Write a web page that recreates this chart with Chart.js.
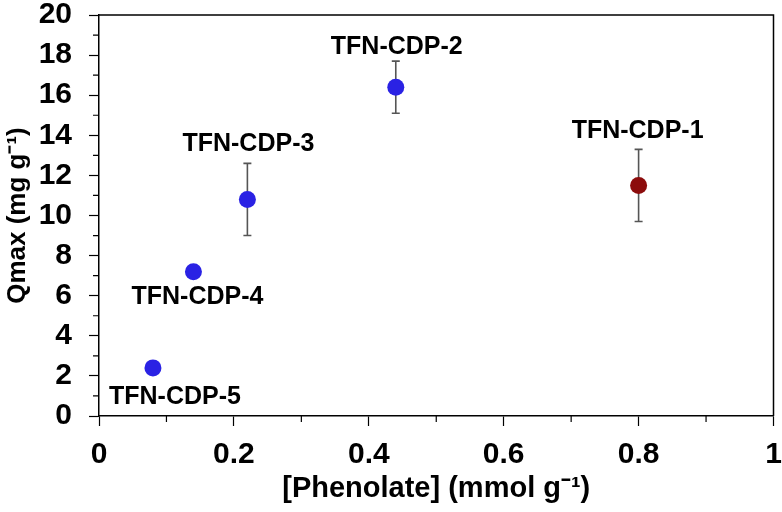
<!DOCTYPE html>
<html>
<head>
<meta charset="utf-8">
<script src="https://cdn.jsdelivr.net/npm/chart.js@4"></script>
<style>
  html, body { margin: 0; padding: 0; background: #fff; }
  #wrap { width: 782px; height: 512px; }
</style>
</head>
<body>
<div id="wrap"><canvas id="myChart" width="782" height="512"></canvas></div>
<script>
// data
const sampleNames = ["TFN-CDP-5", "TFN-CDP-4", "TFN-CDP-3", "TFN-CDP-2", "TFN-CDP-1"];
const phenolate = [0.08, 0.14, 0.22, 0.44, 0.80];
const qmax = [2.4, 7.2, 10.8, 16.4, 11.5];
const qmaxErr = [0, 0, 1.8, 1.3, 1.8];
const xTicks = [0, 0.2, 0.4, 0.6, 0.8, 1];
const yTicks = [0, 2, 4, 6, 8, 10, 12, 14, 16, 18, 20];

// styling
const pointColors = ["#2a22e4", "#2a22e4", "#2a22e4", "#2a22e4", "#8c0c0c"];
const labelOffsets = [[22, 29], [4, 25], [1, -55], [1, -40], [-1, -54]]; // px from marker
const FONT = "'Liberation Sans', Arial, sans-serif";

// error bars + point labels + frame + minor ticks
const extras = {
  id: "extras",
  beforeDatasetsDraw(chart) {
    const { ctx, scales: { x, y } } = chart;
    ctx.save();
    ctx.strokeStyle = "#555";
    ctx.lineWidth = 1.6;
    phenolate.forEach((v, i) => {
      if (!qmaxErr[i]) return;
      const px = x.getPixelForValue(v);
      const top = y.getPixelForValue(qmax[i] + qmaxErr[i]);
      const bot = y.getPixelForValue(qmax[i] - qmaxErr[i]);
      ctx.beginPath();
      ctx.moveTo(px, top); ctx.lineTo(px, bot);
      ctx.moveTo(px - 4, top); ctx.lineTo(px + 4, top);
      ctx.moveTo(px - 4, bot); ctx.lineTo(px + 4, bot);
      ctx.stroke();
    });
    ctx.restore();
  },
  afterDraw(chart) {
    const { ctx, chartArea: a, scales: { x, y } } = chart;
    ctx.save();
    // frame top/right
    ctx.strokeStyle = "#000";
    ctx.lineWidth = 1.5;
    ctx.beginPath();
    ctx.moveTo(a.left, a.top); ctx.lineTo(a.right, a.top); ctx.lineTo(a.right, a.bottom);
    ctx.stroke();
    // minor ticks
    ctx.lineWidth = 1.2;
    ctx.beginPath();
    for (let v = 0.1; v < 1; v += 0.2) {
      const px = x.getPixelForValue(v);
      ctx.moveTo(px, a.bottom); ctx.lineTo(px, a.bottom + 6);
    }
    for (let v = 1; v < 20; v += 2) {
      const py = y.getPixelForValue(v);
      ctx.moveTo(a.left, py); ctx.lineTo(a.left - 6, py);
    }
    ctx.stroke();
    // sample labels
    ctx.fillStyle = "#000";
    ctx.font = "bold 25px " + FONT;
    ctx.textAlign = "center";
    ctx.textBaseline = "middle";
    sampleNames.forEach((name, i) => {
      const px = x.getPixelForValue(phenolate[i]) + labelOffsets[i][0];
      const py = y.getPixelForValue(qmax[i]) + labelOffsets[i][1];
      ctx.fillText(name, px, py);
    });
    ctx.restore();
  }
};

// keep tick labels from pushing the plot area inwards
function noOverflow(s) {
  s.paddingTop = 0; s.paddingBottom = 0; s.paddingLeft = 0; s.paddingRight = 0;
}

var ctx = document.getElementById("myChart").getContext("2d");

var myChart = new Chart(ctx, {
  type: "scatter",
  data: {
    datasets: [{
      data: phenolate.map((v, i) => ({ x: v, y: qmax[i] })),
      backgroundColor: pointColors,
      borderColor: pointColors,
      borderWidth: 0,
      pointRadius: 8.5,
    }],
  },
  options: {
    responsive: false,
    animation: false,
    layout: { padding: { top: 15, right: 7, left: 0, bottom: 0 } },
    plugins: { legend: { display: false }, tooltip: { enabled: false } },
    scales: {
      x: {
        type: "linear",
        min: 0, max: 1,
        afterBuildTicks: (s) => { s.ticks = xTicks.map((v) => ({ value: v })); },
        afterFit: (s) => { s.height = 96; noOverflow(s); },
        grid: { drawOnChartArea: false, tickLength: 10, tickWidth: 1.2, tickColor: "#000" },
        border: { color: "#000", width: 1.5 },
        ticks: {
          color: "#000", padding: 11,
          font: { family: FONT, size: 30, weight: "bold" },
          callback: (v) => String(v),
        },
        title: {
          display: true, text: "[Phenolate] (mmol g\u207B\u00B9)", color: "#000",
          font: { family: FONT, size: 29, weight: "bold" }, padding: { top: 0, bottom: 6 },
        },
      },
      y: {
        type: "linear",
        min: 0, max: 20,
        afterBuildTicks: (s) => { s.ticks = yTicks.map((v) => ({ value: v })); },
        afterFit: (s) => { s.width = 99; noOverflow(s); },
        grid: { drawOnChartArea: false, tickLength: 10, tickWidth: 1.2, tickColor: "#000" },
        border: { color: "#000", width: 1.5 },
        ticks: {
          color: "#000", padding: 17,
          font: { family: FONT, size: 30, weight: "bold" },
        },
        title: {
          display: true, text: "Qmax (mg g\u207B\u00B9)", color: "#000",
          font: { family: FONT, size: 26, weight: "bold" }, padding: { top: 2, bottom: 0 },
        },
      },
    },
  },
  plugins: [extras],
});
</script>
</body>
</html>
